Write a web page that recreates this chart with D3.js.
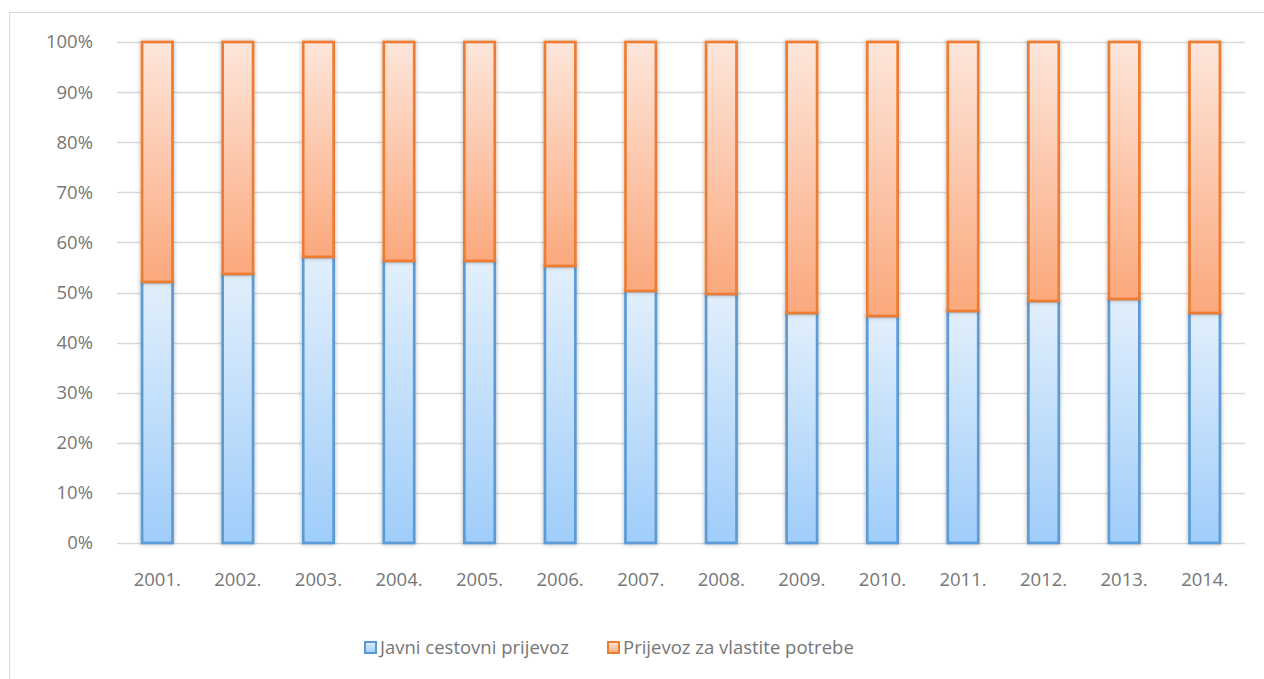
<!DOCTYPE html>
<head>
  <meta charset="utf-8" />
  <script src="https://cdn.jsdelivr.net/npm/d3@7"></script>
  <style>
    body { margin: 0; background: #fff; }
    svg { display: block; }
    text { font-family: "Open Sans", "Noto Sans", sans-serif; fill: #767676; }
  </style>
</head>
<body>
  <svg width="1264" height="679"></svg>
  <script>
    // godine i udio javnog prijevoza (%)
    const years = ["2001.", "2002.", "2003.", "2004.", "2005.", "2006.", "2007.",
                   "2008.", "2009.", "2010.", "2011.", "2012.", "2013.", "2014."];
    const javni = [52.1, 53.7, 57.1, 56.3, 56.3, 55.3, 50.3, 49.7, 45.9, 45.3, 46.3, 48.3, 48.7, 45.9];
    const vlastiti = javni.map(v => 100 - v);
    const seriesNames = ["Javni cestovni prijevoz", "Prijevoz za vlastite potrebe"];
    const yTicks = [0, 10, 20, 30, 40, 50, 60, 70, 80, 90, 100];

    const svg = d3.select("svg");
    const defs = svg.append("defs");

    const grads = [
      { id: "gBlue", top: "#e2effc", bottom: "#9fcdfa" },
      { id: "gOrange", top: "#fde6db", bottom: "#fba87c" }
    ];
    grads.forEach(g => {
      const lg = defs.append("linearGradient").attr("id", g.id)
        .attr("x1", 0).attr("y1", 0).attr("x2", 0).attr("y2", 1);
      lg.append("stop").attr("offset", "0%").attr("stop-color", g.top);
      lg.append("stop").attr("offset", "100%").attr("stop-color", g.bottom);
    });
    const f = defs.append("filter").attr("id", "shadow")
      .attr("x", "-30%").attr("y", "-10%").attr("width", "160%").attr("height", "120%");
    f.append("feDropShadow").attr("dx", 0).attr("dy", 0).attr("stdDeviation", 2)
      .attr("flood-color", "#000").attr("flood-opacity", 0.3);

    // okvir
    svg.append("rect").attr("x", 9.5).attr("y", 12.5).attr("width", 1270).attr("height", 700)
      .attr("fill", "none").attr("stroke", "#d9d9d9");

    const x = d3.scaleBand().domain(years).range([117, 1245]).paddingInner(0.59).paddingOuter(0.295);
    const y = d3.scaleLinear().domain([0, 100]).range([543, 42]);

    // mreža
    svg.append("g").selectAll("line").data(yTicks).enter().append("line")
      .attr("x1", 117).attr("x2", 1245)
      .attr("y1", d => Math.round(y(d)) + 0.5).attr("y2", d => Math.round(y(d)) + 0.5)
      .attr("stroke", "#d9d9d9").attr("stroke-width", 1.3);

    svg.append("g").selectAll("text").data(yTicks).enter().append("text")
      .attr("x", 93).attr("y", d => y(d)).attr("dy", "0.35em")
      .attr("text-anchor", "end").attr("font-size", 18.5)
      .text(d => d + "%");

    const stacked = [
      { vals: javni, base: javni.map(() => 0), fill: "url(#gBlue)", stroke: "#5b9bd5" },
      { vals: vlastiti, base: javni, fill: "url(#gOrange)", stroke: "#ed7d31" }
    ];
    stacked.forEach(s => {
      svg.append("g").selectAll("rect").data(years).enter().append("rect")
        .attr("x", d => x(d) + 1.3)
        .attr("width", x.bandwidth() - 2.6)
        .attr("y", (d, i) => y(s.base[i] + s.vals[i]))
        .attr("height", (d, i) => y(s.base[i]) - y(s.base[i] + s.vals[i]))
        .attr("fill", s.fill).attr("stroke", s.stroke).attr("stroke-width", 2.7)
        .attr("filter", "url(#shadow)");
    });

    svg.append("g").selectAll("text").data(years).enter().append("text")
      .attr("x", d => x(d) + x.bandwidth() / 2).attr("y", 580).attr("dy", "0.35em")
      .attr("text-anchor", "middle").attr("font-size", 18.5)
      .text(d => d);

    // legenda
    const legend = [
      { name: seriesNames[0], x: 364, fill: "url(#gBlue)", stroke: "#5b9bd5" },
      { name: seriesNames[1], x: 607, fill: "url(#gOrange)", stroke: "#ed7d31" }
    ];
    legend.forEach(l => {
      svg.append("rect").attr("x", l.x + 1).attr("y", 642).attr("width", 11).attr("height", 11)
        .attr("fill", l.fill).attr("stroke", l.stroke).attr("stroke-width", 2);
      svg.append("text").attr("x", l.x + 16).attr("y", 648).attr("dy", "0.35em")
        .attr("font-size", 18.5).text(l.name);
    });
  </script>
</body>
